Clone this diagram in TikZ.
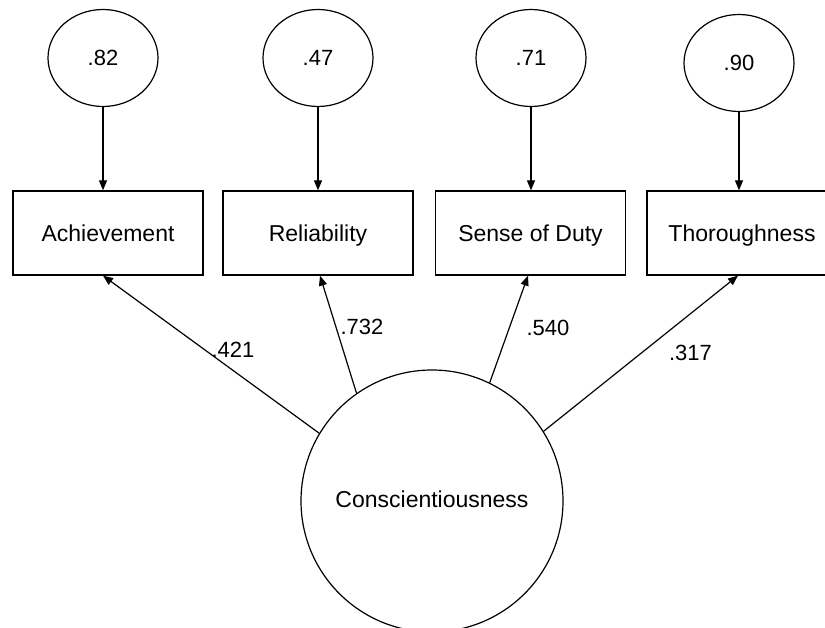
\documentclass[tikz,border=0pt]{standalone}
\usepackage{fontspec}
\setmainfont{Liberation Sans}
\usetikzlibrary{arrows.meta,shapes.geometric}
\begin{document}
\begin{tikzpicture}[x=1pt,y=-1pt,
  every node/.style={font=\fontsize{22}{26}\selectfont},
  big/.style={font=\fontsize{23}{27}\selectfont},
  err/.style={draw, line width=1.2pt, ellipse, minimum width=110pt, minimum height=97pt, inner sep=0pt},
  obs/.style={draw, line width=1.3pt, rectangle, minimum width=190pt, minimum height=84pt, inner sep=0pt, big, text height=17pt, text depth=0pt},
  lat/.style={draw, line width=1.2pt, circle, minimum size=262pt, inner sep=0pt, big},
  arr/.style={line width=1.2pt, -{Triangle[length=10pt,width=8pt]}},
  lbl/.style={inner sep=0pt}]
\useasboundingbox (0,0) rectangle (825,628);
\clip (0,0) rectangle (825,628);
% error terms
\node[err] (e1) at (103,58) {.82};
\node[err] (e2) at (318,58) {.47};
\node[err] (e3) at (531,58) {.71};
\node[err] (e4) at (739,63) {.90};
% observed
\node[obs] (a1) at (108,233) {Achievement};
\node[obs] (a2) at (318,233) {Reliability};
\node[obs] (a3) at (530.5,233) {Sense of Duty};
\node[obs] (a4) at (742,233) {Thoroughness};
% latent
\node[lat] (C) at (432,501) {\raisebox{3pt}{Conscientiousness}};
% error arrows
\draw[arr] (e1.south) -- (e1.south |- a1.north);
\draw[arr] (e2.south) -- (e2.south |- a2.north);
\draw[arr] (e3.south) -- (e3.south |- a3.north);
\draw[arr] (e4.south) -- (e4.south |- a4.north);
% loadings
\coordinate (t1) at ([xshift=-5pt]a1.south);
\coordinate (t2) at ([xshift=2pt]a2.south);
\coordinate (t3) at ([xshift=-2.5pt]a3.south);
\coordinate (t4) at ([xshift=-4pt]a4.south);
\draw[arr] (C.149.4) -- (t1);
\draw[arr] (C.125.1) -- (t2);
\draw[arr] (C.64.6) -- (t3);
\draw[arr] (C.32) -- (t4);
% labels
\node[lbl] (l1) at (233,350) {.421};
\node[lbl] (l2) at (362,327) {.732};
\node[lbl] (l3) at (548,328) {.540};
\node[lbl] (l4) at (690.5,353) {.317};
\end{tikzpicture}
\end{document}
